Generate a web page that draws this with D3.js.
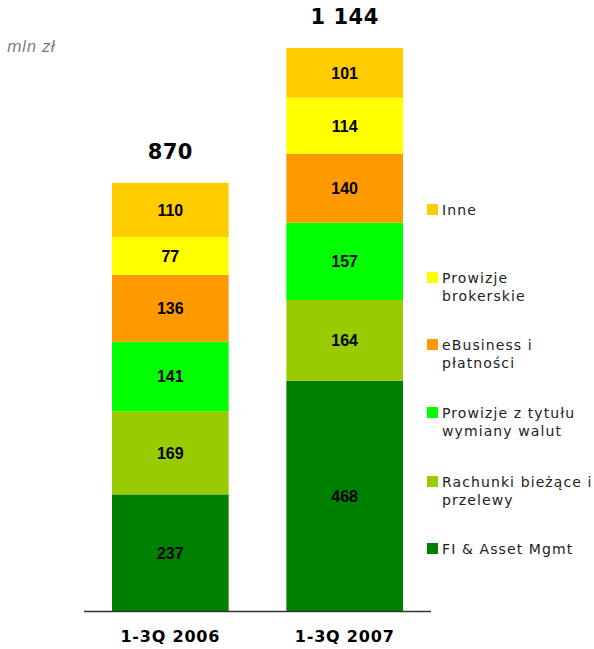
<!DOCTYPE html>
<html><head><meta charset="utf-8">
<script src="https://cdn.jsdelivr.net/npm/d3@7"></script>
<style>body{margin:0;background:#fff}svg{display:block}</style>
</head><body>
<svg id="c" width="594" height="649"></svg>
<script>
const categories = ["1-3Q 2006", "1-3Q 2007"];
const totals = ["870", "1 144"];
const seriesNames = ["FI & Asset Mgmt", "Rachunki bieżące i przelewy", "Prowizje z tytułu wymiany walut", "eBusiness i płatności", "Prowizje brokerskie", "Inne"];
const legendLines = [["FI & Asset Mgmt"], ["Rachunki bieżące i", "przelewy"], ["Prowizje z tytułu", "wymiany walut"], ["eBusiness i", "płatności"], ["Prowizje", "brokerskie"], ["Inne"]];
const seriesColors = ["#008000", "#99CC00", "#00FF00", "#FF9900", "#FFFF00", "#FFCC00"];
const values2006 = [237, 169, 141, 136, 77, 110];
const values2007 = [468, 164, 157, 140, 114, 101];
const unitLabel = "mln zł";

const svg = d3.select("#c");
const x2 = d3.scaleBand().domain(categories).range([112, 403]).paddingInner(0.331).paddingOuter(0);
const y = d3.scaleLinear().domain([0, 1144]).range([611, 48]);

const data = [values2006, values2007];
data.forEach((vals, i) => {
  const cat = categories[i];
  let cum = 0;
  vals.forEach((v, j) => {
    const y0 = cum, y1 = cum + v; cum = y1;
    svg.append("rect").attr("x", x2(cat)).attr("width", x2.bandwidth())
      .attr("y", y(y1)).attr("height", y(y0) - y(y1)).attr("fill", seriesColors[j]);
    svg.append("text").attr("x", x2(cat) + x2.bandwidth() / 2).attr("y", (y(y0) + y(y1)) / 2 + 6)
      .attr("text-anchor", "middle").attr("font-family", "Liberation Sans, Arial, sans-serif")
      .attr("font-weight", "bold").attr("font-size", 16).attr("fill", "#000").text(v);
  });
  svg.append("text").attr("x", x2(cat) + x2.bandwidth() / 2).attr("y", y(cum) - 24)
    .attr("text-anchor", "middle").attr("font-family", "DejaVu Sans, Verdana, sans-serif")
    .attr("font-weight", "bold").attr("font-size", 21).attr("letter-spacing", 0.5).attr("fill", "#000").text(totals[i]);
});

// axis baseline
const axis = d3.axisBottom(x2).tickSize(0).tickPadding(19);
const ag = svg.append("g").attr("transform", "translate(0,611.5)").call(axis);
ag.select(".domain").attr("d", "M84,0H431").attr("stroke", "#333").attr("stroke-width", 1.5);
ag.selectAll("text").attr("font-family", "DejaVu Sans, Verdana, sans-serif").attr("font-weight", "bold")
  .attr("font-size", 16).attr("letter-spacing", 0.8).attr("fill", "#000");

// unit label
svg.append("text").attr("x", 7).attr("y", 52).attr("font-family", "DejaVu Sans, Verdana, sans-serif")
  .attr("font-style", "italic").attr("font-size", 15).attr("letter-spacing", 0.5).attr("fill", "#777").text(unitLabel);

// legend (top to bottom: reversed series)
const legendTop = [210, 278, 345, 413, 482, 549];
const order = [5, 4, 3, 2, 1, 0];
order.forEach((s, k) => {
  const yy = legendTop[k];
  svg.append("rect").attr("x", 427).attr("y", yy - 6).attr("width", 11).attr("height", 11).attr("fill", seriesColors[s]);
  const t = svg.append("text").attr("x", 442).attr("y", yy + 5).attr("font-family", "DejaVu Sans, Verdana, sans-serif")
    .attr("font-size", 14).attr("letter-spacing", 1.1).attr("fill", "#222");
  legendLines[s].forEach((ln, li) => {
    t.append("tspan").attr("x", 442).attr("dy", li === 0 ? 0 : 18).text(ln);
  });
});
</script>
</body></html>
